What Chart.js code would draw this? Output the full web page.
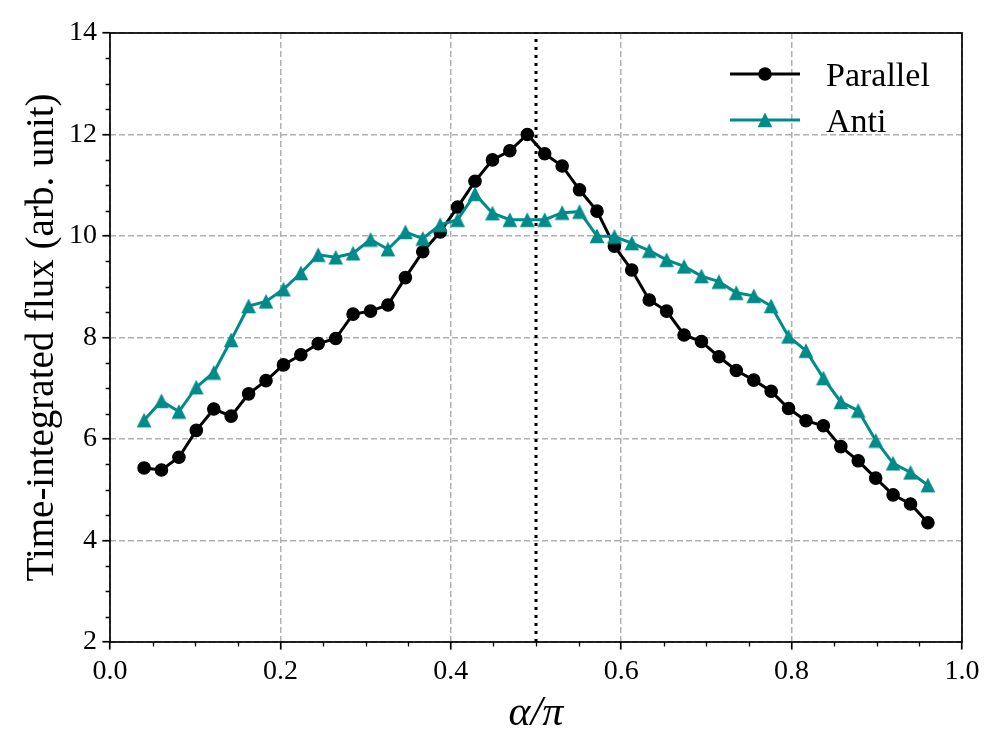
<!DOCTYPE html>
<html>
<head>
<meta charset="utf-8">
<script src="https://cdn.jsdelivr.net/npm/chart.js@4.4.1/dist/chart.umd.min.js"></script>
<style>
html,body{margin:0;padding:0;background:#ffffff;}
#wrap{width:1004px;height:752px;}
</style>
</head>
<body>
<div id="wrap"><canvas id="c" width="1004" height="752"></canvas></div>
<script>
// ---- data ----
const alphaOverPi = [0.0400, 0.0604, 0.0809, 0.1013, 0.1218, 0.1422, 0.1627, 0.1831, 0.2036, 0.2240,
  0.2444, 0.2649, 0.2853, 0.3058, 0.3262, 0.3467, 0.3671, 0.3876, 0.4080, 0.4284,
  0.4489, 0.4693, 0.4898, 0.5102, 0.5307, 0.5511, 0.5716, 0.5920, 0.6124, 0.6329,
  0.6533, 0.6738, 0.6942, 0.7147, 0.7351, 0.7556, 0.7760, 0.7964, 0.8169, 0.8373,
  0.8578, 0.8782, 0.8987, 0.9191, 0.9396, 0.9600];
const parallelFlux = [5.43, 5.39, 5.64, 6.17, 6.59, 6.45, 6.89, 7.15, 7.46, 7.66,
  7.88, 7.98, 8.46, 8.52, 8.64, 9.18, 9.69, 10.08, 10.57, 11.08,
  11.50, 11.68, 12.00, 11.62, 11.38, 10.91, 10.49, 9.80, 9.33, 8.74,
  8.52, 8.05, 7.92, 7.62, 7.35, 7.16, 6.94, 6.60, 6.36, 6.26,
  5.85, 5.57, 5.23, 4.90, 4.72, 4.35];
const antiFlux = [6.37, 6.75, 6.54, 7.02, 7.31, 7.95, 8.62, 8.71, 8.95, 9.27,
  9.63, 9.58, 9.66, 9.93, 9.74, 10.08, 9.95, 10.22, 10.32, 10.83,
  10.45, 10.32, 10.32, 10.32, 10.46, 10.48, 10.00, 9.99, 9.86, 9.71,
  9.53, 9.40, 9.21, 9.10, 8.88, 8.82, 8.62, 8.02, 7.74, 7.20,
  6.73, 6.56, 5.97, 5.52, 5.34, 5.09];
const seriesNames = ['Parallel', 'Anti'];
const xTickValues = [0.0, 0.2, 0.4, 0.6, 0.8, 1.0];
const xTickLabels = ['0.0', '0.2', '0.4', '0.6', '0.8', '1.0'];
const yTickValues = [2, 4, 6, 8, 10, 12, 14];
const yTickLabels = ['2', '4', '6', '8', '10', '12', '14'];
const markerLineX = [0.5, 0.5];
const markerLineY = [2, 14];
const xAxisTitle = 'α/π';
const yAxisTitle = 'Time-integrated flux (arb. unit)';

// ---- styles ----
const SERIF = '"Liberation Serif", "DejaVu Serif", serif';
const parallelColor = '#000000';
const antiColor = '#008b8b';
const gridColor = '#b0b0b0';

const triangleMarker = (() => {
  const c = document.createElement('canvas');
  c.width = 16; c.height = 16;
  const g = c.getContext('2d');
  g.fillStyle = antiColor;
  g.beginPath();
  g.moveTo(8, 0.6);
  g.lineTo(0.6, 15.3);
  g.lineTo(15.4, 15.3);
  g.closePath();
  g.fill();
  return c;
})();

const framePlugin = {
  id: 'frame',
  afterDraw(chart) {
    const ctx = chart.ctx;
    const a = chart.chartArea;
    const xs = chart.scales.x, ys = chart.scales.y;
    ctx.save();
    ctx.strokeStyle = '#000';
    // minor ticks
    ctx.lineWidth = 1.3;
    ctx.beginPath();
    for (let k = 0; k <= 20; k++) {
      const v = k * 0.05;
      if (k % 4 === 0) continue;
      const px = Math.round(xs.getPixelForValue(v)) + 0.5;
      ctx.moveTo(px, a.bottom);
      ctx.lineTo(px, a.bottom + 4.4);
    }
    for (let k = 0; k <= 24; k++) {
      const v = 2 + k * 0.5;
      if (k % 4 === 0) continue;
      const py = Math.round(ys.getPixelForValue(v)) + 0.5;
      ctx.moveTo(a.left, py);
      ctx.lineTo(a.left - 4.4, py);
    }
    ctx.stroke();
    // box
    ctx.lineWidth = 1.7;
    ctx.strokeRect(a.left, a.top, a.right - a.left, a.bottom - a.top);
    // legend
    const items = chart.data.datasets.filter(d => seriesNames.includes(d.label));
    const lx0 = 730, lx1 = 800, tx = 826;
    const rowY = [74, 120];
    ctx.font = '34px ' + SERIF;
    ctx.textAlign = 'left';
    ctx.textBaseline = 'middle';
    items.forEach((d, i) => {
      const y = rowY[i];
      ctx.strokeStyle = d.borderColor;
      ctx.lineWidth = d.borderWidth;
      ctx.beginPath();
      ctx.moveTo(lx0, y); ctx.lineTo(lx1, y);
      ctx.stroke();
      const cx = (lx0 + lx1) / 2;
      if (d.pointStyle && typeof d.pointStyle === 'object') {
        const im = d.pointStyle;
        ctx.drawImage(im, cx - im.width / 2, y - im.height / 2);
      } else {
        ctx.fillStyle = d.pointBackgroundColor;
        ctx.beginPath();
        ctx.arc(cx, y, d.pointRadius + d.pointBorderWidth / 2, 0, Math.PI * 2);
        ctx.fill();
      }
      ctx.fillStyle = '#000';
      ctx.fillText(d.label, tx, y + 3);
    });
    ctx.restore();
  }
};

const tickFont = {family: SERIF, size: 28};

new Chart(document.getElementById('c').getContext('2d'), {
  type: 'line',
  data: {
    datasets: [
      {
        label: seriesNames[0],
        data: alphaOverPi.map((x, i) => ({x: x, y: parallelFlux[i]})),
        borderColor: parallelColor,
        backgroundColor: parallelColor,
        borderWidth: 3,
        pointRadius: 6.2,
        pointBorderWidth: 1.2,
        pointBackgroundColor: parallelColor,
        pointBorderColor: parallelColor,
        pointStyle: 'circle',
        tension: 0,
        order: 2
      },
      {
        label: seriesNames[1],
        data: alphaOverPi.map((x, i) => ({x: x, y: antiFlux[i]})),
        borderColor: antiColor,
        backgroundColor: antiColor,
        borderWidth: 3,
        pointRadius: 8,
        pointBorderWidth: 0,
        pointBackgroundColor: antiColor,
        pointBorderColor: antiColor,
        pointStyle: triangleMarker,
        tension: 0,
        order: 1
      },
      {
        label: 'alpha = pi/2',
        data: markerLineX.map((x, i) => ({x: x, y: markerLineY[i]})),
        borderColor: '#000',
        borderWidth: 3,
        borderDash: [3, 5],
        pointRadius: 0,
        tension: 0,
        order: 0
      }
    ]
  },
  options: {
    responsive: false,
    animation: false,
    devicePixelRatio: 1,
    layout: {padding: {top: 33, right: 42, left: 0, bottom: 0}},
    plugins: {legend: {display: false}, tooltip: {enabled: false}},
    scales: {
      x: {
        type: 'linear',
        min: 0, max: 1,
        afterFit(s) { s.height = 110; },
        afterBuildTicks(s) { s.ticks = xTickValues.map(v => ({value: v})); },
        ticks: {
          callback: (v) => xTickLabels[xTickValues.indexOf(v)],
          font: tickFont, color: '#000', padding: 5, maxRotation: 0, autoSkip: false
        },
        grid: {color: gridColor, lineWidth: 1.5, drawTicks: true, tickLength: 7.6, tickColor: '#000', tickWidth: 1.7},
        border: {display: false, dash: [6, 3]},
        title: {display: true, text: xAxisTitle, color: '#000',
          font: {family: SERIF, size: 42, style: 'italic'}, padding: {top: 0, bottom: 13}}
      },
      y: {
        type: 'linear',
        min: 2, max: 14,
        afterFit(s) { s.width = 110; },
        afterBuildTicks(s) { s.ticks = yTickValues.map(v => ({value: v})); },
        ticks: {
          callback: (v) => yTickLabels[yTickValues.indexOf(v)],
          font: tickFont, color: '#000', padding: 5.5, autoSkip: false
        },
        grid: {color: gridColor, lineWidth: 1.5, drawTicks: true, tickLength: 7.6, tickColor: '#000', tickWidth: 1.7},
        border: {display: false, dash: [6, 3]},
        title: {display: true, text: yAxisTitle, color: '#000',
          font: {family: SERIF, size: 39}, padding: {top: 19, bottom: 0}}
      }
    }
  },
  plugins: [framePlugin]
});
</script>
</body>
</html>
